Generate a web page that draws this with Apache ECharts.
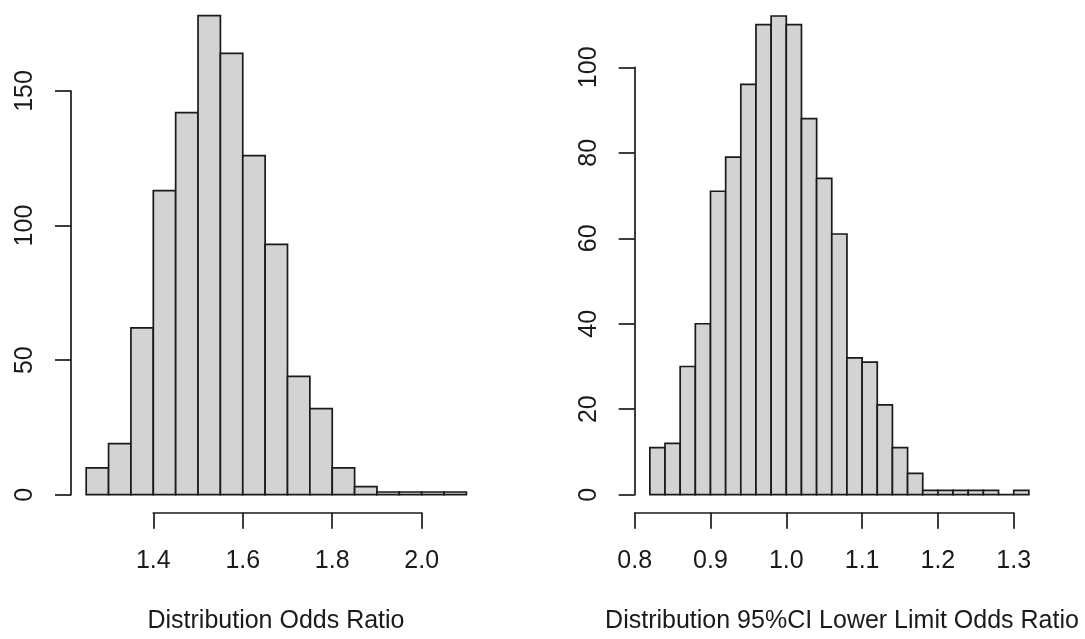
<!DOCTYPE html>
<html>
<head>
<meta charset="utf-8">
<script src="https://cdn.jsdelivr.net/npm/echarts@6/dist/echarts.min.js"></script>
<style>
html,body{margin:0;padding:0;background:#fff;}
#chart{width:1085px;height:639px;}
</style>
</head>
<body>
<div id="chart"></div>
<script>
// Left histogram: bin edges and counts
var leftEdges = [1.25,1.30,1.35,1.40,1.45,1.50,1.55,1.60,1.65,1.70,1.75,1.80,1.85,1.90,1.95,2.00,2.05,2.10];
var leftCounts = [10,19,62,113,142,178,164,126,93,44,32,10,3,1,1,1,1];
var leftXTicks = [1.4,1.6,1.8,2.0];
var leftYTicks = [0,50,100,150];
var leftTitle = 'Distribution Odds Ratio';

// Right histogram: bin edges and counts
var rightEdges = [0.82,0.84,0.86,0.88,0.90,0.92,0.94,0.96,0.98,1.00,1.02,1.04,1.06,1.08,1.10,1.12,1.14,1.16,1.18,1.20,1.22,1.24,1.26,1.28,1.30,1.32];
var rightCounts = [11,12,30,40,71,79,96,110,112,110,88,74,61,32,31,21,11,5,1,1,1,1,1,0,1];
var rightXTicks = [0.8,0.9,1.0,1.1,1.2,1.3];
var rightYTicks = [0,20,40,60,80,100];
var rightTitle = 'Distribution 95%CI Lower Limit Odds Ratio';

var FONT = 'Liberation Sans, Arial, sans-serif';
var FS = 25;
var INK = '#1a1a1a';

function binData(edges, counts){
  var d = [];
  for (var i = 0; i < counts.length; i++) d.push([edges[i], edges[i+1], counts[i]]);
  return d;
}
function renderBin(params, api){
  var p0 = api.coord([api.value(0), api.value(2)]);
  var p1 = api.coord([api.value(1), 0]);
  return {
    type: 'rect',
    shape: {x: p0[0], y: p0[1], width: p1[0]-p0[0], height: p1[1]-p0[1]},
    style: {fill: '#d3d3d3', stroke: INK, lineWidth: 1.7}
  };
}
function xAxisCfg(idx, ticks, offset){
  return {
    type: 'value', gridIndex: idx,
    min: ticks[0], max: ticks[ticks.length-1], interval: Math.round((ticks[1]-ticks[0])*1000)/1000,
    offset: offset,
    axisLine: {show: true, onZero: false, lineStyle: {color: INK, width: 1.7}},
    axisTick: {show: true, length: 16, lineStyle: {color: INK, width: 1.7}},
    splitLine: {show: false},
    axisLabel: {color: INK, fontSize: FS, fontFamily: FONT, margin: 36,
      formatter: function(v){ return v.toFixed(1); }}
  };
}
function yAxisCfg(idx, ticks, offset){
  return {
    type: 'value', gridIndex: idx,
    min: ticks[0], max: ticks[ticks.length-1], interval: ticks[1]-ticks[0],
    offset: offset,
    axisLine: {show: true, lineStyle: {color: INK, width: 1.7}},
    axisTick: {show: true, length: 16, lineStyle: {color: INK, width: 1.7}},
    splitLine: {show: false},
    axisLabel: {color: INK, fontSize: FS, fontFamily: FONT, margin: 33, rotate: 90}
  };
}

var chart = echarts.init(document.getElementById('chart'), null, {renderer: 'canvas'});
chart.setOption({
  animation: false,
  backgroundColor: '#fff',
  grid: [
    {left: 153.3, top: 91, width: 268.4, height: 403.7},
    {left: 634.7, top: 67.3, width: 379, height: 427.4}
  ],
  xAxis: [xAxisCfg(0, leftXTicks, 18), xAxisCfg(1, rightXTicks, 18)],
  yAxis: [yAxisCfg(0, leftYTicks, 82.3), yAxisCfg(1, rightYTicks, 0)],
  series: [
    {type: 'custom', xAxisIndex: 0, yAxisIndex: 0, clip: false, renderItem: renderBin,
     encode: {x: [0,1], y: 2}, data: binData(leftEdges, leftCounts)},
    {type: 'custom', xAxisIndex: 1, yAxisIndex: 1, clip: false, renderItem: renderBin,
     encode: {x: [0,1], y: 2}, data: binData(rightEdges, rightCounts)}
  ],
  graphic: [
    {type: 'text', x: 276, y: 621, style: {text: leftTitle, fill: INK, font: FS + 'px ' + FONT, textAlign: 'center', textVerticalAlign: 'middle'}},
    {type: 'text', x: 842, y: 621, style: {text: rightTitle, fill: INK, font: FS + 'px ' + FONT, textAlign: 'center', textVerticalAlign: 'middle'}}
  ]
});
</script>
</body>
</html>
